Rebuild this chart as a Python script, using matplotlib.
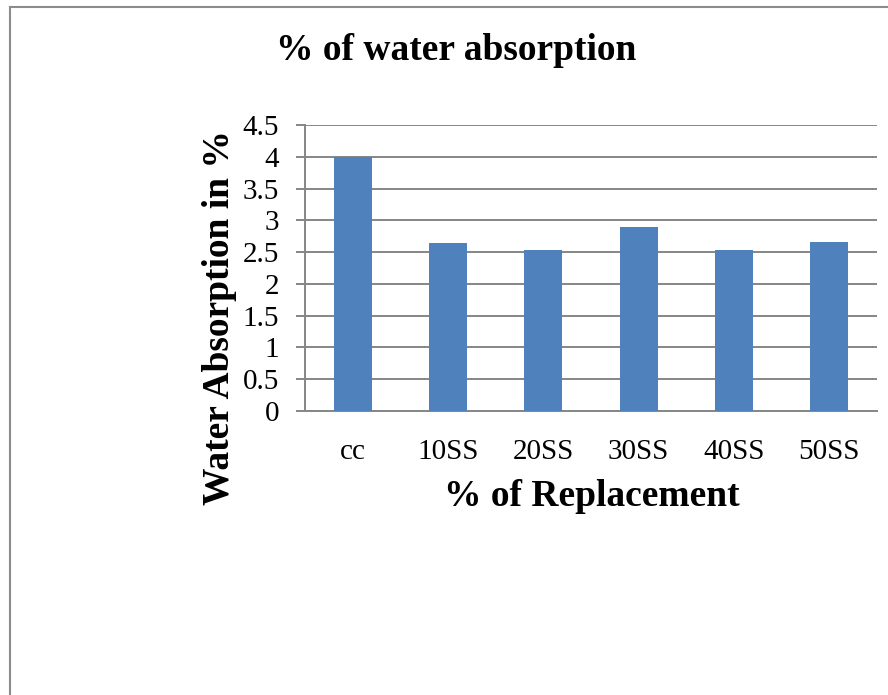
import matplotlib
matplotlib.use('Agg')
import matplotlib.pyplot as plt
from matplotlib.lines import Line2D

categories = ['cc', '10SS', '20SS', '30SS', '40SS', '50SS']
absorption = [4.0, 2.65, 2.53, 2.89, 2.54, 2.66]
yticks = [0, 0.5, 1, 1.5, 2, 2.5, 3, 3.5, 4, 4.5]
ytick_labels = ['0', '0.5', '1', '1.5', '2', '2.5', '3', '3.5', '4', '4.5']

plt.rcParams['font.family'] = ['Liberation Serif', 'DejaVu Serif']

grey = '#868686'
fig = plt.figure(figsize=(8.88, 6.95), dpi=100)
ax = fig.add_axes([0.3435, 0.409, 0.9876 - 0.3435, 0.820 - 0.409])

x = range(len(categories))
ax.bar(x, absorption, width=0.4, color='#4F81BD', zorder=3)

ax.set_xlim(-0.5, len(categories) - 0.5)
ax.set_ylim(0, 4.5)
ax.set_yticks(yticks)
ax.set_yticklabels(ytick_labels)
ax.set_xticks(list(x))
ax.set_xticklabels(categories)

ax.yaxis.grid(True, color=grey, linewidth=1.4, zorder=0)
ax.set_axisbelow(True)
for s in ['top', 'right']:
    ax.spines[s].set_visible(False)
for s in ['left', 'bottom']:
    ax.spines[s].set_color(grey)
    ax.spines[s].set_linewidth(1.4)

ax.tick_params(axis='y', length=6.5, width=1.4, color=grey, labelsize=21, pad=12)
ax.tick_params(axis='x', length=0, labelsize=21, pad=20)

fig.text(0.5135, 0.928, '% of water absorption', ha='center', va='center',
         fontsize=27, fontweight='bold')
fig.text(0.667, 0.285, '% of Replacement', ha='center', va='center',
         fontsize=27, fontweight='bold')
fig.text(0.2475, 0.543, 'Water Absorption in %', ha='center', va='center',
         rotation=90, fontsize=27, fontweight='bold')

# chart border
fig.add_artist(Line2D([9.5 / 888, 9.5 / 888], [0, 1 - 6.5 / 695],
                      transform=fig.transFigure, color='#8c8c8c', linewidth=1.5))
fig.add_artist(Line2D([9.5 / 888, 1], [1 - 6.5 / 695, 1 - 6.5 / 695],
                      transform=fig.transFigure, color='#8c8c8c', linewidth=1.5))

fig.savefig('out.png', dpi=100)
